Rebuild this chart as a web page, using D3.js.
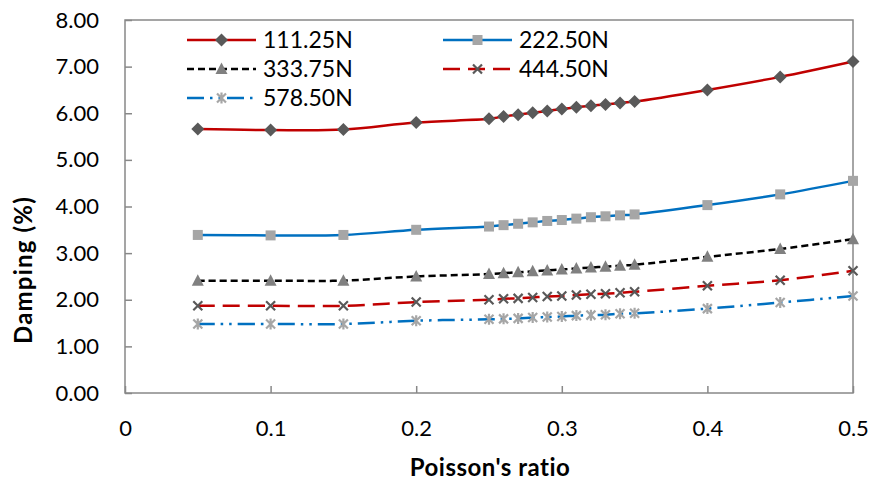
<!DOCTYPE html>
<html><head><meta charset="utf-8">
<script src="https://cdn.jsdelivr.net/npm/d3@7"></script>
<style>
html,body{margin:0;padding:0;background:#fff;}
svg{display:block;font-family:Lato, "Open Sans", sans-serif;}
</style></head>
<body><svg id="c" width="872" height="481"></svg>
<script>
const poisson = [0.05,0.1,0.15,0.2,0.25,0.26,0.27,0.28,0.29,0.30,0.31,0.32,0.33,0.34,0.35,0.4,0.45,0.5];
const s111 = [5.66,5.64,5.65,5.80,5.88,5.93,5.97,6.01,6.05,6.09,6.13,6.16,6.19,6.22,6.25,6.50,6.78,7.11];
const s222 = [3.39,3.38,3.39,3.50,3.57,3.60,3.63,3.66,3.69,3.71,3.74,3.77,3.79,3.81,3.83,4.03,4.26,4.55];
const s333 = [2.41,2.41,2.41,2.50,2.55,2.57,2.59,2.61,2.63,2.65,2.67,2.69,2.71,2.73,2.75,2.92,3.09,3.30];
const s444 = [1.87,1.87,1.87,1.95,2.00,2.02,2.03,2.05,2.07,2.08,2.10,2.12,2.13,2.15,2.17,2.30,2.42,2.62];
const s578 = [1.48,1.48,1.48,1.55,1.58,1.59,1.60,1.62,1.63,1.64,1.66,1.67,1.68,1.70,1.71,1.81,1.94,2.08];
const seriesNames = ["111.25N","222.50N","333.75N","444.50N","578.50N"];
const xTicks = [0,0.1,0.2,0.3,0.4,0.5];
const yTicks = [0,1,2,3,4,5,6,7,8];
const xTitle = "Poisson's ratio";
const yTitle = "Damping (%)";

const styles = [
  {color:"#C00000", dash:null, marker:"diamond", mfill:"#595959"},
  {color:"#0070C0", dash:null, marker:"square", mfill:"#A6A6A6"},
  {color:"#000000", dash:"7,4", marker:"triangle", mfill:"#808080"},
  {color:"#C00000", dash:"17,8", marker:"x", mfill:"#595959"},
  {color:"#0070C0", dash:"17,6,2.5,6,2.5,6", marker:"star", mfill:"#A6A6A6"}
];
const allValues = [s111,s222,s333,s444,s578];

const svg = d3.select("#c");
const L=125, R=853, T=20, B=393;
const x = d3.scaleLinear().domain([0,0.5]).range([L,R]);
const y = d3.scaleLinear().domain([0,8]).range([B,T]);
const axisColor = "#888888";

// frame
svg.append("rect").attr("x",L).attr("y",T).attr("width",R-L).attr("height",B-T)
  .attr("fill","none").attr("stroke",axisColor).attr("stroke-width",1.5);

// y axis
const yAx = svg.append("g").attr("transform",`translate(${L},0)`)
  .call(d3.axisLeft(y).tickValues(yTicks).tickFormat(d3.format(".2f")).tickSizeInner(-7).tickSizeOuter(0).tickPadding(26));
yAx.select(".domain").remove();
yAx.selectAll("line").attr("stroke",axisColor).attr("stroke-width",1.5);
yAx.selectAll("text").attr("font-size",22).attr("fill","#000").attr("font-family","Lato, sans-serif");

// x axis
const xAx = svg.append("g").attr("transform",`translate(0,${B})`)
  .call(d3.axisBottom(x).tickValues(xTicks).tickFormat(d=>d===0?"0":d3.format(".1f")(d)).tickSizeInner(-7).tickSizeOuter(0).tickPadding(27));
xAx.select(".domain").remove();
xAx.selectAll("line").attr("stroke",axisColor).attr("stroke-width",1.5);
xAx.selectAll("text").attr("font-size",22).attr("fill","#000").attr("font-family","Lato, sans-serif");

// titles
svg.append("text").attr("x",490).attr("y",476).attr("text-anchor","middle")
  .attr("font-size",24).attr("font-weight","bold").attr("letter-spacing",0.5).text(xTitle);
svg.append("text").attr("transform",`translate(32,270) rotate(-90)`).attr("text-anchor","middle")
  .attr("font-size",24).attr("font-weight","bold").attr("letter-spacing",1.2).text(yTitle);

function drawMarker(g, type, fill, cx, cy){
  if(type==="diamond"){
    g.append("path").attr("d",`M${cx},${cy-6.5}L${cx+6.5},${cy}L${cx},${cy+6.5}L${cx-6.5},${cy}Z`).attr("fill",fill);
  } else if(type==="square"){
    g.append("rect").attr("x",cx-5).attr("y",cy-5).attr("width",10).attr("height",10).attr("fill",fill);
  } else if(type==="triangle"){
    g.append("path").attr("d",`M${cx},${cy-6.5}L${cx+6},${cy+5}L${cx-6},${cy+5}Z`).attr("fill",fill);
  } else if(type==="x"){
    g.append("path").attr("d",`M${cx-4.5},${cy-4.5}L${cx+4.5},${cy+4.5}M${cx-4.5},${cy+4.5}L${cx+4.5},${cy-4.5}`)
      .attr("stroke",fill).attr("stroke-width",2.2).attr("fill","none");
  } else if(type==="star"){
    g.append("path").attr("d",`M${cx-4.5},${cy-4.5}L${cx+4.5},${cy+4.5}M${cx-4.5},${cy+4.5}L${cx+4.5},${cy-4.5}M${cx},${cy-5.5}L${cx},${cy+5.5}`)
      .attr("stroke",fill).attr("stroke-width",2.2).attr("fill","none");
  }
}

const line = d3.line().x(d=>x(d[0])).y(d=>y(d[1])).curve(d3.curveCatmullRom.alpha(0.5));
allValues.forEach((vals,i)=>{
  const st = styles[i];
  const data = poisson.map((p,j)=>[p,vals[j]]);
  const g = svg.append("g");
  g.append("path").datum(data).attr("d",line).attr("fill","none")
    .attr("stroke",st.color).attr("stroke-width",2.5).attr("stroke-dasharray",st.dash);
  data.forEach(d=>drawMarker(g, st.marker, st.mfill, x(d[0]), y(d[1])));
});

// legend
const legPos = [[187,40],[443,40],[187,69],[443,69],[187,98]];
seriesNames.forEach((name,i)=>{
  const st = styles[i];
  const [lx,ly] = legPos[i];
  const g = svg.append("g");
  g.append("line").attr("x1",lx).attr("x2",lx+69).attr("y1",ly).attr("y2",ly)
    .attr("stroke",st.color).attr("stroke-width",2.5).attr("stroke-dasharray",st.dash);
  drawMarker(g, st.marker, st.mfill, lx+34.5, ly);
  g.append("text").attr("x",lx+76).attr("y",ly).attr("dy","0.36em").attr("font-size",23).text(name);
});
</script></body></html>
